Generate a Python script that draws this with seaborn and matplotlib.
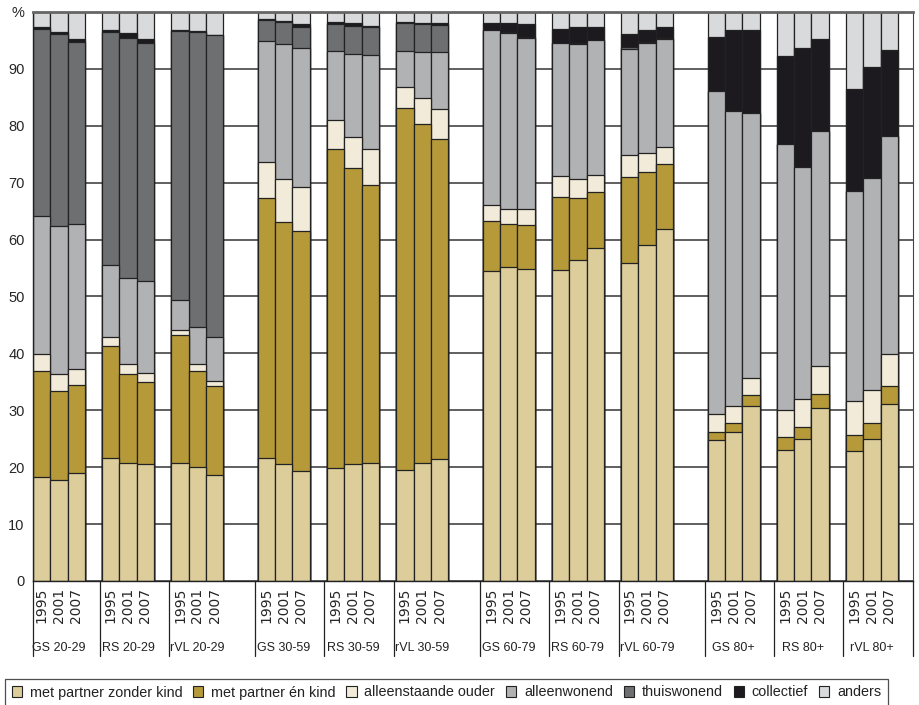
import numpy as np
import pandas as pd
import matplotlib
matplotlib.use('Agg')
import matplotlib.pyplot as plt
import seaborn as sns
from matplotlib.patches import Patch
from matplotlib.transforms import blended_transform_factory

# ── Data (percent per household type, 3 years per region/age group) ──
groups = ['GS 20-29', 'RS 20-29', 'rVL 20-29',
          'GS 30-59', 'RS 30-59', 'rVL 30-59',
          'GS 60-79', 'RS 60-79', 'rVL 60-79',
          'GS 80+', 'RS 80+', 'rVL 80+']
years = ['1995', '2001', '2007']

met_partner_zonder_kind = [18.2, 17.8, 18.9, 21.6, 20.8, 20.5, 20.7, 20.0, 18.7,
                           21.6, 20.5, 19.4, 19.8, 20.5, 20.7, 19.5, 20.8, 21.4,
                           54.5, 55.1, 54.9, 54.7, 56.4, 58.6, 55.9, 59.1, 61.9,
                           24.7, 26.2, 30.8, 23.1, 24.9, 30.4, 22.9, 24.9, 31.1]
met_partner_en_kind = [18.7, 15.6, 15.5, 19.7, 15.6, 14.5, 22.5, 16.9, 15.5,
                       45.7, 42.6, 42.1, 56.2, 52.1, 48.9, 63.6, 59.5, 56.3,
                       8.8, 7.6, 7.7, 12.8, 10.9, 9.7, 15.1, 12.8, 11.3,
                       1.5, 1.5, 1.9, 2.2, 2.2, 2.5, 2.8, 2.9, 3.1]
alleenstaande_ouder = [3.0, 3.0, 2.8, 1.5, 1.7, 1.5, 0.9, 1.2, 1.0,
                       6.3, 7.6, 7.7, 5.0, 5.5, 6.3, 3.7, 4.5, 5.2,
                       2.7, 2.6, 2.7, 3.6, 3.4, 3.1, 3.9, 3.3, 3.0,
                       3.1, 3.0, 3.0, 4.8, 4.8, 4.8, 6.0, 5.8, 5.7]
alleenwonend = [24.3, 26.0, 25.6, 12.8, 15.2, 16.3, 5.2, 6.5, 7.6,
                21.3, 23.7, 24.4, 12.2, 14.5, 16.6, 6.4, 8.2, 10.1,
                30.8, 31.0, 30.2, 23.4, 23.7, 23.6, 18.6, 19.4, 19.0,
                56.9, 51.9, 46.6, 46.7, 40.9, 41.3, 36.9, 37.3, 38.3]
thuiswonend = [32.8, 33.8, 31.9, 40.9, 42.1, 41.7, 47.3, 51.9, 53.1,
               3.7, 3.8, 3.8, 4.7, 4.9, 4.8, 4.9, 4.9, 4.7,
               0.1, 0.1, 0.1, 0.1, 0.1, 0.1, 0.3, 0.2, 0.2,
               0.0, 0.0, 0.0, 0.0, 0.0, 0.0, 0.0, 0.0, 0.0]
collectief = [0.3, 0.3, 0.5, 0.4, 0.9, 0.8, 0.3, 0.2, 0.1,
              0.2, 0.2, 0.5, 0.4, 0.5, 0.3, 0.2, 0.2, 0.3,
              1.2, 1.7, 2.3, 2.4, 2.8, 2.3, 2.3, 2.0, 2.0,
              9.4, 14.2, 14.6, 15.4, 20.8, 16.3, 17.8, 19.4, 15.2]
anders = [2.7, 3.5, 4.8, 3.1, 3.7, 4.7, 3.1, 3.3, 4.0,
          1.2, 1.6, 2.1, 1.7, 2.0, 2.4, 1.7, 1.9, 2.0,
          1.9, 1.9, 2.1, 3.0, 2.7, 2.6, 3.9, 3.2, 2.6,
          4.4, 3.2, 3.1, 7.8, 6.4, 4.7, 13.6, 9.7, 6.6]

categories = ['met partner zonder kind', 'met partner én kind', 'alleenstaande ouder',
              'alleenwonend', 'thuiswonend', 'collectief', 'anders']
series = [met_partner_zonder_kind, met_partner_en_kind, alleenstaande_ouder,
          alleenwonend, thuiswonend, collectief, anders]
colors = ['#DCCD9B', '#B69A3A', '#F2EBD9', '#B1B2B4', '#6E6F71', '#1C1A1F', '#D9DADC']

# ── Theme / fonts ──────────────────────────────────────────────
sns.set_theme(style='white')
plt.rcParams['font.family'] = ['Liberation Sans', 'DejaVu Sans']
plt.rcParams['text.color'] = '#222222'

# ── Slot layout: 3 bars per group, 1 empty slot between groups,
#    2 empty slots between age brackets ─────────────────────────
slot_order = []
for i, g in enumerate(groups):
    for y in years:
        slot_order.append(f'{g}|{y}')
    slot_order.append(f'gap{i}')
    if i % 3 == 2:
        slot_order.append(f'gap{i}b')

rows = []
for gi, g in enumerate(groups):
    for yi, y in enumerate(years):
        idx = gi * 3 + yi
        vals = [s[idx] for s in series]
        row = {'slot': f'{g}|{y}', 'group': g, 'year': y}
        cum = np.cumsum(vals)
        for k in range(len(categories)):
            row[f'cum{k}'] = cum[k]
        rows.append(row)
df = pd.DataFrame(rows)

# ── Plot: draw cumulative layers from top down ─────────────────
fig, ax = plt.subplots(figsize=(9.19, 7.05), dpi=100)
fig.subplots_adjust(left=0.0359, right=0.9935, bottom=0.1759, top=0.983)

for k in reversed(range(len(categories))):
    sns.barplot(data=df, x='slot', y=f'cum{k}', order=slot_order,
                color=colors[k], saturation=1, width=1.0,
                edgecolor='#222222', linewidth=0.9, errorbar=None, ax=ax)

ax.set_xlim(-0.5, 50.37)
ax.set_ylim(0, 100)
ax.set_axisbelow(True)
ax.yaxis.grid(True, color='#444444', linewidth=1.2)
ax.set_xlabel('')
ax.set_ylabel('')

ax.set_yticks(range(0, 101, 10))
ax.set_yticklabels([str(v) for v in range(0, 100, 10)] + ['%'], fontsize=10.5)
ax.tick_params(axis='y', length=0, pad=6)

bar_pos = [slot_order.index(s) for s in df['slot']]
ax.set_xticks(bar_pos)
ax.set_xticklabels(df['year'], rotation=90, fontsize=10, family='DejaVu Sans')
ax.tick_params(axis='x', length=0, pad=5)

for side in ['left', 'bottom']:
    ax.spines[side].set_color('#222222')
    ax.spines[side].set_linewidth(1.0)
ax.spines['top'].set_color('#666666')
ax.spines['top'].set_linewidth(2.0)
ax.spines['right'].set_color('#444444')
ax.spines['right'].set_linewidth(0.8)

# ── Group labels and separators below the axis ─────────────────
trans = blended_transform_factory(ax.transData, ax.transAxes)
for g in groups:
    pos = [slot_order.index(f'{g}|{y}') for y in years]
    ax.text(np.mean(pos), -0.118, g, transform=trans, ha='center', va='center',
            fontsize=9)
    left = max(pos[0] - 0.65, -0.5)
    ax.plot([left, left], [0, -0.132], transform=trans, clip_on=False,
            color='#222222', linewidth=0.9)
right = ax.get_xlim()[1]
ax.plot([right, right], [0, -0.132], transform=trans, clip_on=False,
        color='#222222', linewidth=0.9)

# ── Legend ─────────────────────────────────────────────────────
handles = [Patch(facecolor=c, edgecolor='#222222', linewidth=0.8, label=l)
           for c, l in zip(colors, categories)]
leg = fig.legend(handles=handles, ncol=7, loc='upper left',
                 bbox_to_anchor=(5 / 919, 1 - 679 / 705), frameon=True,
                 fancybox=False, edgecolor='#222222', fontsize=10.4,
                 handlelength=0.7, handleheight=0.7, handletextpad=0.55,
                 columnspacing=0.75, borderpad=0.45, borderaxespad=0)
leg.get_frame().set_linewidth(0.9)

plt.savefig('out.png', dpi=100)
plt.close()
